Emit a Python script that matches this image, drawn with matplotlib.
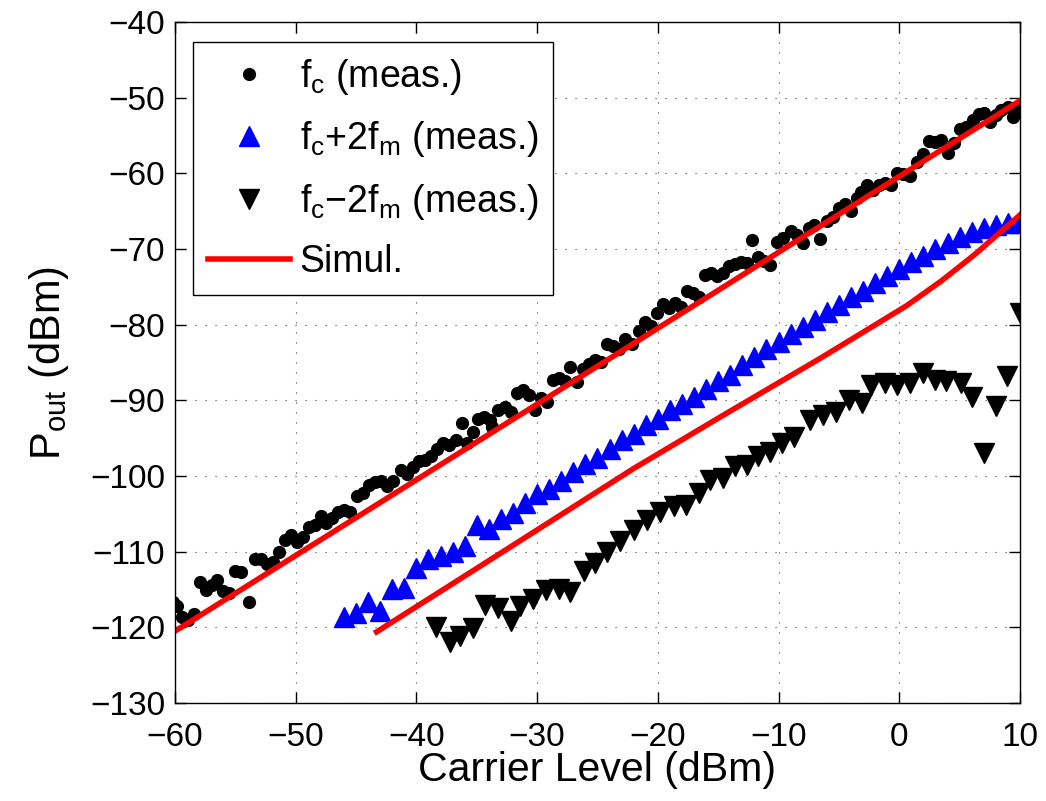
import matplotlib.pyplot as plt
import numpy as np

plt.rcParams['font.family'] = ['Liberation Sans', 'DejaVu Sans']
plt.rcParams['mathtext.fontset'] = 'custom'
plt.rcParams['mathtext.rm'] = 'Liberation Sans'
plt.rcParams['mathtext.it'] = 'Liberation Sans'

# f_c (meas.)
fc_x = [-60.2, -59.8, -59.4, -58.9, -58.4, -57.9, -57.4, -56.9, -56.5, -56.0,
        -55.5, -55.0, -54.5, -53.9, -53.4, -52.9, -52.4, -51.9, -51.4, -50.9,
        -50.4, -49.9, -49.4, -48.9, -48.4, -47.9, -47.5, -47.0, -46.5, -46.0,
        -45.5, -44.9, -44.4, -43.9, -43.4, -42.9, -42.4, -41.9, -41.3, -40.8,
        -40.3, -39.8, -39.3, -38.8, -38.3, -37.8, -37.3, -36.7, -36.2, -35.8,
        -35.3, -34.9, -34.4, -33.9, -33.7, -33.2, -32.7, -32.2, -31.7, -31.2,
        -30.7, -30.2, -29.7, -29.2, -28.7, -28.2, -27.7, -27.3, -26.7, -26.2,
        -25.7, -25.2, -24.7, -24.2, -23.7, -23.2, -22.7, -22.1, -21.6, -21.1,
        -20.6, -20.1, -19.6, -19.1, -18.6, -18.1, -17.6, -17.1, -16.6, -16.1,
        -15.6, -15.1, -14.6, -14.1, -13.6, -13.1, -12.6, -12.2, -11.7, -11.2,
        -10.7, -10.1, -9.6, -9.0, -8.5, -8.0, -7.5, -7.1, -6.6, -6.0,
        -5.5, -5.0, -4.5, -4.0, -3.5, -3.2, -2.7, -2.2, -1.7, -1.2,
        -0.7, -0.2, 0.3, 0.9, 1.5, 2.0, 2.5, 3.0, 3.5, 4.0,
        4.5, 5.0, 5.5, 6.1, 6.6, 7.0, 7.5, 8.0, 8.4, 9.0,
        9.4, 10.0]
fc_y = [-116.6, -117.2, -118.6, -119.0, -118.2, -114.0, -115.0, -114.4, -113.8, -115.2,
        -115.4, -112.6, -112.7, -116.6, -111.0, -110.9, -111.6, -111.3, -110.1, -108.4,
        -107.8, -108.7, -108.0, -106.7, -106.5, -105.3, -106.2, -105.6, -104.8, -104.5,
        -104.8, -102.7, -102.3, -101.2, -100.8, -100.6, -101.3, -100.6, -99.2, -99.7,
        -98.8, -98.0, -97.9, -97.3, -96.4, -95.7, -95.9, -95.3, -93.0, -95.6,
        -94.2, -92.4, -92.2, -92.6, -93.5, -91.3, -90.9, -91.5, -89.0, -88.6,
        -89.3, -91.3, -89.7, -90.2, -87.3, -87.1, -87.4, -85.6, -87.6, -85.8,
        -85.2, -84.6, -84.9, -82.6, -82.8, -83.2, -81.9, -82.6, -80.8, -79.6,
        -80.2, -78.5, -77.3, -77.8, -77.1, -77.6, -75.5, -75.8, -76.3, -73.4,
        -73.2, -73.6, -73.2, -72.3, -72.0, -71.7, -71.9, -68.8, -71.0, -71.6,
        -72.1, -69.1, -68.6, -67.6, -68.2, -69.2, -67.2, -66.8, -68.7, -66.3,
        -65.8, -64.6, -64.1, -65.0, -63.2, -62.4, -61.5, -62.2, -61.6, -61.3,
        -61.6, -60.0, -60.1, -60.3, -58.5, -57.4, -55.7, -55.8, -55.6, -57.3,
        -56.0, -54.2, -53.9, -52.9, -52.2, -52.0, -53.2, -52.3, -51.6, -51.2,
        -52.5, -51.5]

# f_c + 2 f_m (meas.)
up_x = [-46, -45, -44, -43, -42, -41, -40, -39, -38, -37, -36, -35, -34, -33, -32,
        -31, -30, -29, -28, -27, -26, -25, -24, -23, -22, -21, -20, -19, -18, -17,
        -16, -15, -14, -13, -12, -11, -10, -9, -8, -7, -6, -5, -4, -3, -2,
        -1, 0, 1, 2, 3, 4, 5, 6, 7, 8, 9, 10]
up_y = [-118.6, -118.1, -116.7, -117.9, -114.9, -114.8, -112.2, -111.0, -110.6, -110.1,
        -109.2, -106.5, -107.0, -105.7, -104.9, -103.6, -102.4, -101.7, -100.6, -99.5,
        -98.4, -97.6, -96.4, -95.3, -94.4, -93.2, -92.4, -91.3, -90.5, -89.5,
        -88.5, -87.4, -86.6, -85.3, -84.3, -83.2, -82.3, -81.2, -80.3, -79.4,
        -78.3, -77.4, -76.4, -75.5, -74.5, -73.6, -72.6, -71.7, -70.9, -70.0,
        -69.2, -68.4, -67.8, -67.2, -66.8, -66.5, -66.6]

# f_c - 2 f_m (meas.)
dn_x = [-38.4, -37.2, -36.4, -35.3, -34.3, -33.2, -32.2, -31.4, -30.3, -29.3,
        -28.2, -27.3, -26.1, -25.2, -24.2, -23.1, -22.0, -20.9, -19.8, -18.7,
        -17.7, -16.6, -15.7, -14.6, -13.6, -12.6, -11.7, -10.7, -9.7, -8.7,
        -7.4, -6.3, -5.2, -4.2, -3.1, -2.3, -1.2, -0.2, 0.9, 2.0,
        3.0, 3.9, 5.1, 6.0, 7.0, 8.0, 8.9, 10.0]
dn_y = [-119.9, -121.9, -121.1, -120.1, -117.0, -117.4, -119.2, -117.2, -116.2, -115.0,
        -114.9, -115.3, -112.5, -111.5, -110.0, -108.6, -107.1, -105.8, -104.7, -104.0,
        -103.8, -102.3, -100.5, -100.3, -98.7, -98.5, -97.4, -96.8, -95.7, -94.8,
        -92.6, -91.9, -91.5, -89.9, -90.4, -88.0, -87.7, -88.0, -87.7, -86.4,
        -87.3, -87.5, -87.7, -89.5, -97.0, -90.8, -86.8, -78.5]

# simulations
sim1_x = [-60, -30, 0, 10]
sim1_y = [-120.5, -90.5, -60.4, -50.4]
sim2_x = [-43.3, -35.0, -22.0, -14.3, -6.5, -3.0, 0.6, 3.5, 6.2, 10.0]
sim2_y = [-120.6, -112.2, -99.0, -91.7, -84.4, -81.0, -77.5, -74.2, -70.8, -65.5]

fig = plt.figure(figsize=(10.46, 8.01), dpi=100)
ax = fig.add_axes([0.1673, 0.1223, 0.8078, 0.8502])

ax.plot(fc_x, fc_y, 'o', color='black', markersize=8.5, label=r'$\mathregular{f_c}$ (meas.)')
ax.plot(up_x, up_y, '^', color='blue', markersize=15, label=r'$\mathregular{f_c}$+2$\mathregular{f_m}$ (meas.)')
ax.plot(dn_x, dn_y, 'v', color='black', markersize=15, label=r'$\mathregular{f_c}$$-$2$\mathregular{f_m}$ (meas.)')
ax.plot(sim1_x, sim1_y, '-', color='red', linewidth=4, label='Simul.')
ax.plot(sim2_x, sim2_y, '-', color='red', linewidth=4)

ax.set_xlim(-60, 10)
ax.set_ylim(-130, -40)
ax.set_xticks(np.arange(-60, 11, 10))
ax.set_yticks(np.arange(-130, -39, 10))
ax.tick_params(direction='in', top=True, right=True, labelsize=24, length=8, width=1)
ax.tick_params(axis='x', pad=14)
ax.tick_params(axis='y', pad=7)
ax.grid(True, linestyle=(0, (1, 8)), color='0.25', linewidth=0.8)
for s in ax.spines.values():
    s.set_linewidth(1.0)

ax.set_xlabel('Carrier Level (dBm)', fontsize=29.5, labelpad=-2)
ax.set_ylabel(r'$\mathregular{P_{out}}$ (dBm)', fontsize=30, labelpad=14)

leg = ax.legend(loc='upper left', bbox_to_anchor=(0.021, 0.971), borderaxespad=0,
                fontsize=27, fancybox=False, edgecolor='black', framealpha=1,
                handlelength=2.2, handletextpad=0.25, labelspacing=0.6, borderpad=0.4)
leg.get_frame().set_linewidth(1.0)

fig.savefig('out.png', dpi=100)
